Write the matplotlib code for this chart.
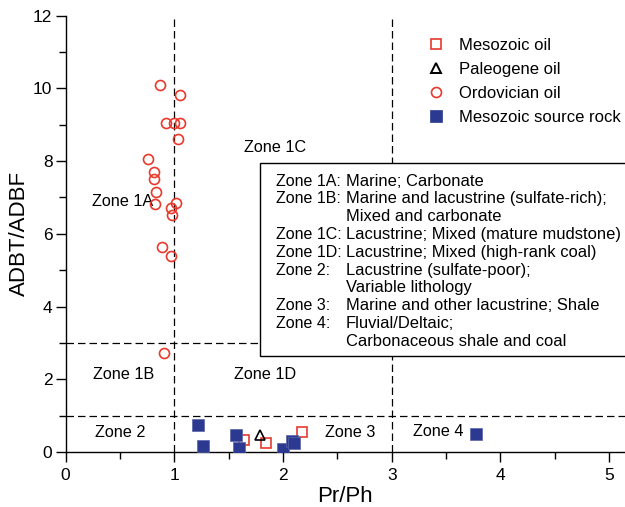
import matplotlib
matplotlib.use("Agg")
import matplotlib.pyplot as plt
from matplotlib.patches import Rectangle
from matplotlib.lines import Line2D
from matplotlib.ticker import MultipleLocator

plt.rcParams['font.family'] = ['Liberation Sans', 'DejaVu Sans']

# ---- data ----
ordo_x = [0.872, 1.055, 0.919, 1.000, 1.048, 1.037, 0.762, 0.813, 0.813, 0.835,
          0.824, 1.011, 0.967, 0.982, 0.883, 0.974, 0.908]
ordo_y = [10.10, 9.83, 9.06, 9.06, 9.06, 8.61, 8.06, 7.70, 7.50, 7.16,
          6.82, 6.86, 6.72, 6.51, 5.63, 5.40, 2.72]

meso_oil_x = [1.641, 1.843, 2.176]
meso_oil_y = [0.32, 0.24, 0.54]

paleo_x = [1.79]
paleo_y = [0.47]

src_x = [1.215, 1.262, 1.563, 1.592, 2.002, 2.087, 2.101, 3.774]
src_y = [0.75, 0.16, 0.47, 0.11, 0.08, 0.31, 0.25, 0.50]

zone_names = ["Zone 1A", "Zone 1C", "Zone 1B", "Zone 1D", "Zone 2", "Zone 3", "Zone 4"]
zone_x = [0.24, 1.64, 0.255, 1.553, 0.266, 2.386, 3.193]
zone_y = [6.88, 8.38, 2.14, 2.14, 0.53, 0.53, 0.55]

box_labels = ["Zone 1A:", "Zone 1B:", "", "Zone 1C:", "Zone 1D:", "Zone 2:", "", "Zone 3:", "Zone 4:", ""]
box_desc = ["Marine; Carbonate",
            "Marine and lacustrine (sulfate-rich);",
            "Mixed and carbonate",
            "Lacustrine; Mixed (mature mudstone)",
            "Lacustrine; Mixed (high-rank coal)",
            "Lacustrine (sulfate-poor);",
            "Variable lithology",
            "Marine and other lacustrine; Shale",
            "Fluvial/Deltaic;",
            "Carbonaceous shale and coal"]

x_boundaries = [1, 3]
y_boundaries = [1, 3]

RED = "#e8392c"
NAVY = "#2b3990"

fig = plt.figure(figsize=(6.25, 5.07), dpi=100)
ax = fig.add_axes([0.105, 0.1085, 0.895, 0.8605])
ax.set_xlim(0, 5.146)
ax.set_ylim(0, 12)

dash = (0, (6.0, 3.2))
for xv in x_boundaries:
    ax.axvline(xv, color='black', lw=0.9, ls=dash, zorder=1)
for yv in y_boundaries:
    ax.axhline(yv, color='black', lw=0.9, ls=dash, zorder=1)

# description box
ax.add_patch(Rectangle((1.79, 2.65), 4.0, 5.29, facecolor='white',
                       edgecolor='black', lw=1.0, zorder=2))
px_y = 36.36
for i, (lab, desc) in enumerate(zip(box_labels, box_desc)):
    yy = (452 - (181 + 17.8 * i)) / px_y
    if lab:
        ax.text(1.933, yy, lab, fontsize=11.5, ha='left', va='center', zorder=3)
    ax.text(2.575, yy, desc, fontsize=11.9, ha='left', va='center', zorder=3)

for name, zx, zy in zip(zone_names, zone_x, zone_y):
    ax.text(zx, zy, name, fontsize=11.7, ha='left', va='center', zorder=3)

ax.plot(ordo_x, ordo_y, ls='none', marker='o', ms=7.2, mfc='none', mec=RED, mew=1.2, zorder=4)
ax.plot(meso_oil_x, meso_oil_y, ls='none', marker='s', ms=7.0, mfc='none', mec=RED, mew=1.2, zorder=4)
ax.plot(paleo_x, paleo_y, ls='none', marker='^', ms=6.5, mfc='none', mec='black', mew=1.2, zorder=4)
ax.plot(src_x, src_y, ls='none', marker='s', ms=8.0, mfc=NAVY, mec='#5a64a8', mew=0.5, zorder=5)

handles = [
    Line2D([], [], ls='none', marker='s', ms=7.0, mfc='none', mec=RED, mew=1.2),
    Line2D([], [], ls='none', marker='^', ms=6.5, mfc='none', mec='black', mew=1.4),
    Line2D([], [], ls='none', marker='o', ms=7.2, mfc='none', mec=RED, mew=1.2),
    Line2D([], [], ls='none', marker='s', ms=8.0, mfc=NAVY, mec=NAVY, mew=0.5),
]
legend_labels = ["Mesozoic oil", "Paleogene oil", "Ordovician oil", "Mesozoic source rock"]
fig.legend(handles, legend_labels, loc='upper left', bbox_to_anchor=(0.6843, 0.926),
           frameon=False, fontsize=12, handlelength=1.0, handletextpad=0.85,
           labelspacing=0.55, borderpad=0, borderaxespad=0)

for s in ['top', 'right']:
    ax.spines[s].set_visible(False)
ax.spines['left'].set_linewidth(1.0)
ax.spines['bottom'].set_linewidth(1.0)

ax.xaxis.set_major_locator(MultipleLocator(1))
ax.xaxis.set_minor_locator(MultipleLocator(0.5))
ax.yaxis.set_major_locator(MultipleLocator(2))
ax.yaxis.set_minor_locator(MultipleLocator(1))
ax.tick_params(axis='both', which='major', direction='out', length=7.5, width=1.0, labelsize=12.5)
ax.tick_params(axis='both', which='minor', direction='out', length=5.0, width=1.0)
ax.tick_params(axis='x', which='major', pad=4)
ax.tick_params(axis='y', which='major', pad=2)

ax.set_xlabel("Pr/Ph", fontsize=16, labelpad=2)
ax.set_ylabel("ADBT/ADBF", fontsize=16, labelpad=2)

fig.savefig("out.png", dpi=100)
